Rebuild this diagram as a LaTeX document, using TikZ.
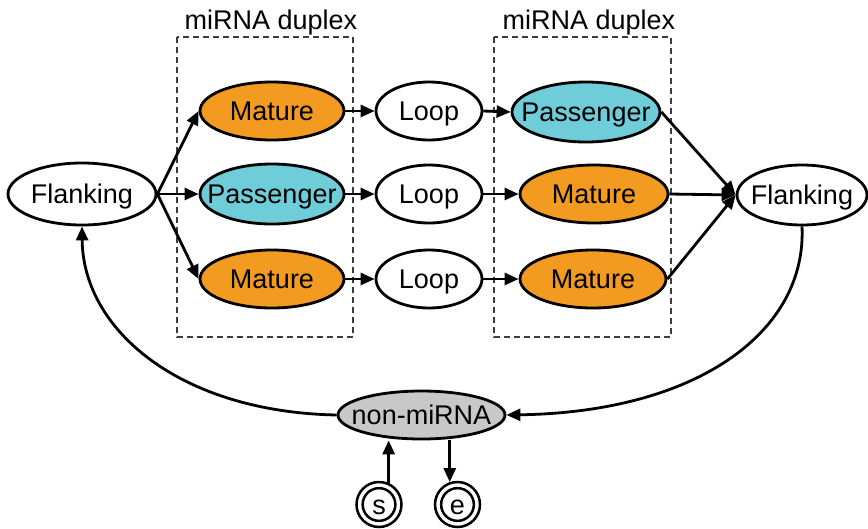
\documentclass[tikz,border=0pt]{standalone}
\usepackage{fontspec}
\setmainfont{Liberation Sans}
\usetikzlibrary{shapes.geometric,arrows.meta}
\definecolor{orng}{RGB}{243,154,33}
\definecolor{cyn}{RGB}{110,205,217}
\definecolor{gry}{RGB}{200,200,200}
\definecolor{dashgray}{RGB}{60,60,60}
\newcommand{\tx}[1]{\makebox[0pt]{\rule[-0.25em]{0pt}{1.216em}#1}}
\begin{document}
\begin{tikzpicture}[x=1pt,y=-1pt,
  st/.style={ellipse, draw, line width=2.8pt, inner sep=0pt,
    font=\fontsize{27}{30}\selectfont},
  mat/.style={st, fill=orng, minimum width=144pt, minimum height=58pt},
  pas/.style={st, fill=cyn, minimum width=146pt, minimum height=60pt},
  lp/.style={st, fill=white, minimum width=106pt, minimum height=58pt},
  flk/.style={st, fill=white, minimum height=62pt},
  nonm/.style={st, fill=gry, minimum width=167pt, minimum height=48pt},
  endc/.style={circle, draw, line width=2.5pt, inner sep=0pt, fill=white,
    font=\fontsize{27}{30}\selectfont},
  arr/.style={line width=2.8pt, -{Triangle[length=14pt,width=12pt]}},
  dupbox/.style={draw=dashgray, dashed, dash pattern=on 6pt off 4pt, line width=1.5pt},
  lbl/.style={font=\fontsize{27}{30}\selectfont, anchor=base, inner sep=0pt}
]
\useasboundingbox (0,0) rectangle (868,528);

% duplex boxes
\draw[dupbox] (177,37) rectangle (353,337);
\draw[dupbox] (494,37) rectangle (671,337);
\node[lbl] (lab1) at (271,29) {miRNA duplex};
\node[lbl] (lab2) at (589,29) {miRNA duplex};

% nodes
\node[flk, minimum width=148pt] (F1) at (82,194) {\tx{Flanking}};
\node[mat] (M1) at (272,111) {\tx{Mature}};
\node[pas, minimum width=144pt] (P1) at (272,194) {\tx{Passenger}};
\node[mat] (M2) at (272,279) {\tx{Mature}};
\node[lp] (L1) at (429,111) {\tx{Loop}};
\node[lp] (L2) at (429,194) {\tx{Loop}};
\node[lp] (L3) at (429,279) {\tx{Loop}};
\node[pas, minimum width=148pt] (P3) at (586,112) {\tx{Passenger}};
\node[mat, minimum width=148pt] (M3) at (594,194) {\tx{Mature}};
\node[mat, minimum width=146pt] (M4) at (593,279) {\tx{Mature}};
\node[flk, minimum width=130pt, minimum height=60pt] (F2) at (802,195) {\tx{Flanking}};
\node[nonm] (NM) at (421.5,415) {\tx{non-miRNA}};

\node[endc, minimum size=45pt] (S) at (379,504.5) {};
\node[endc, minimum size=28pt] (Sin) at (S.center) {\tx{s}};
\node[endc, minimum size=45pt] (E) at (457.5,504.5) {};
\node[endc, minimum size=28pt] (Ein) at (E.center) {\tx{e}};

% connectors
\draw[arr] (F1.east) -- (M1.west);
\draw[arr] (F1.east) -- (P1.west);
\draw[arr] (F1.east) -- (M2.west);
\draw[arr] (M1.east) -- (L1.west);
\draw[arr] (P1.east) -- (L2.west);
\draw[arr] (M2.east) -- (L3.west);
\draw[arr] (L1.east) -- (P3.west);
\draw[arr] (L2.east) -- (M3.west);
\draw[arr] (L3.east) -- (M4.west);
\draw[arr] (P3.east) -- (F2.west);
\draw[arr] (M3.east) -- (F2.west);
\draw[arr] (M4.east) -- (F2.west);

\draw[arr] (F2.south) .. controls (807,330) and (700,412) .. (NM.east);
\draw[arr] (NM.west) .. controls (180,412) and (83,330) .. (F1.south);

\draw[arr] (S.66) -- (S.66 |- NM.south);
\draw[arr] (E.109.5 |- NM.south) -- (E.109.5);
\end{tikzpicture}
\end{document}
